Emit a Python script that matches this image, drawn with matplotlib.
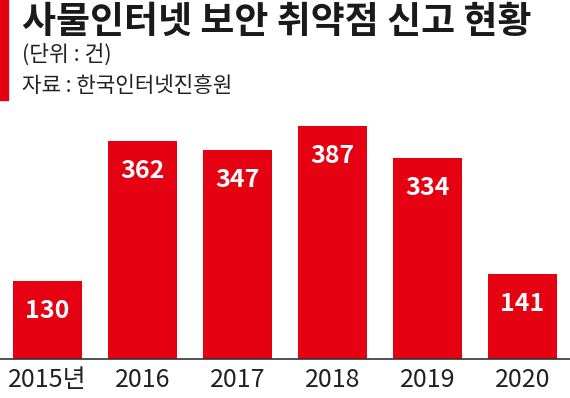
import matplotlib
matplotlib.use("Agg")
import matplotlib.pyplot as plt
from matplotlib.patches import Rectangle

plt.rcParams['font.family'] = ['Noto Sans CJK KR', 'DejaVu Sans']

years = ["2015년", "2016", "2017", "2018", "2019", "2020"]
values = [130, 362, 347, 387, 334, 141]

title = "사물인터넷 보안 취약점 신고 현황"
unit = "(단위 : 건)"
source = "자료 : 한국인터넷진흥원"

RED = "#e50012"
W, H = 570, 398
fig = plt.figure(figsize=(W / 100, H / 100), dpi=100)

# axes: baseline at y=359 px, top at y=110 px
ax_bottom = (H - 359) / H
ax_top = (H - 110) / H
ax = fig.add_axes([0, ax_bottom, 1, ax_top - ax_bottom])
x = list(range(len(years)))
bars = ax.bar(x, values, width=0.72, color=RED, zorder=2)
ax.set_xlim(-0.5, 5.5)
ax.set_ylim(0, 249 / 0.602)
for s in ["top", "right", "left"]:
    ax.spines[s].set_visible(False)
ax.spines["bottom"].set_color("#333333")
ax.spines["bottom"].set_linewidth(1.2)
ax.set_yticks([])
ax.set_xticks(x)
ax.set_xticklabels(years, fontsize=18, color="#222222")
ax.tick_params(axis="x", length=0, pad=6)
ax.patch.set_alpha(0)

for xi, v in zip(x, values):
    ax.annotate(str(v), (xi, v), xytext=(0, -30), textcoords="offset pixels",
                ha="center", va="center", color="white", fontsize=18, fontweight="bold")

# left red accent bar
fig.patches.append(Rectangle((0, (H - 100) / H), 8 / W, 100 / H, transform=fig.transFigure,
                             color=RED, zorder=5))

fig.text(22 / W, 1 - 22 / H, title, fontsize=26.6, fontweight="bold", color="#1a1a1a",
         ha="left", va="center")
fig.text(22 / W, 1 - 55 / H, unit, fontsize=15.5, color="#222222", ha="left", va="center")
fig.text(22 / W, 1 - 86 / H, source, fontsize=15.3, color="#222222", ha="left", va="center")

fig.savefig("out.png", dpi=100)
